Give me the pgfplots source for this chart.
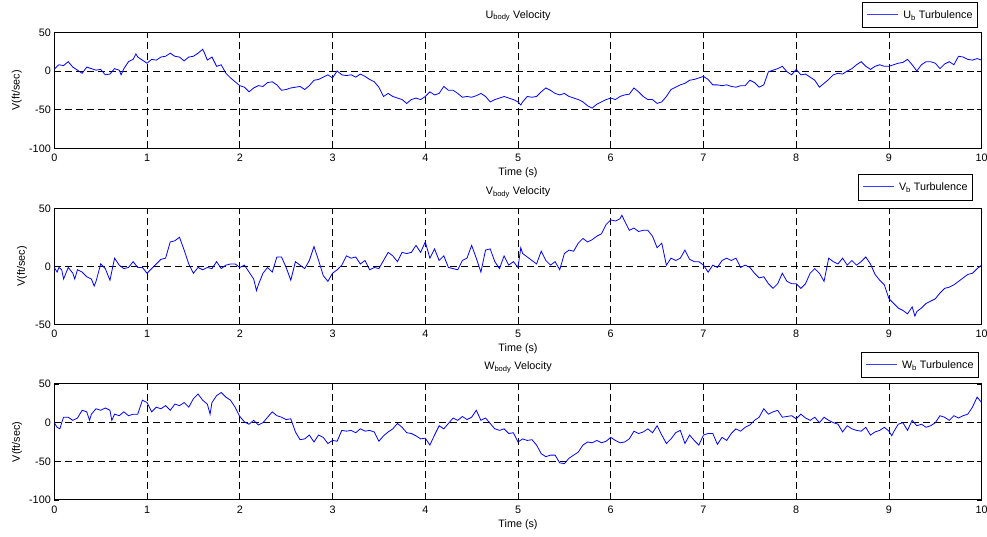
\documentclass[border=0pt]{standalone}
\usepackage{fontspec}
\setmainfont{Liberation Sans}
\usepackage{pgfplots}
\pgfplotsset{compat=1.18}
\newcommand{\fs}{\fontsize{10.8}{12}\selectfont}
\definecolor{legblue}{RGB}{60,60,255}
\newcommand{\legline}{\textcolor{legblue}{\rule[0.32em]{31pt}{0.8pt}}\hspace{5pt}}
\pgfplotsset{
  myax/.style={
    scale only axis, width=927.4pt, height=116pt, anchor=south west,
    xmin=0, xmax=10, xtick={0,1,...,10},
    grid=major,
    major grid style={black, line width=0.6pt, dash pattern=on 7pt off 4pt},
    extra tick style={grid=none},
    tick align=inside, tick pos=both, major tick length=5pt,
    axis line style={black, line width=1pt},
    every tick/.style={black, line width=0.8pt},
    tick label style={font=\fs},
    xticklabel style={yshift=-2.5pt},
    label style={font=\fs},
    title style={font=\fs, at={(axis description cs:0.5,1)}, anchor=base, yshift=8pt},
    xlabel={Time (s)},
    xlabel style={at={(axis description cs:0.5,0)}, anchor=center, yshift=-24.7pt},
    ylabel={V(ft/sec)},
    /pgf/number format/assume math mode=true,
    legend style={draw=black, line width=0.9pt, font=\fs,
      inner xsep=3pt, inner ysep=6pt, anchor=south east},
    legend image code/.code={},
  },
  myline/.style={draw=blue, line width=0.8pt, mark=none},
}
\begin{document}
\begin{tikzpicture}
\useasboundingbox (0,0) rectangle (987pt,537pt);
% ---------- U ----------
\begin{axis}[myax, at={(54.3pt,388.7pt)},
  ymin=-100, ymax=50, ytick={-50,0}, extra y ticks={-100,50},
  title={U\textsubscript{body} Velocity},
  ylabel style={at={(axis description cs:-0.0405,0.5)}, anchor=center},
  legend style={at={(axis description cs:1,1)}, xshift=-3.7pt, yshift=4pt}]
\addplot[myline] coordinates {
(0,2)(0.03,6)(0.05,8)(0.1,7)(0.15,12)(0.2,5)(0.25,1)(0.3,-3)(0.35,5)(0.4,3)
(0.45,1)(0.5,2)(0.55,-5)(0.6,-4)(0.65,3)(0.7,1)(0.72,-5)(0.75,3)(0.8,12)(0.85,15)
(0.88,22)(0.9,18)(0.95,14)(1.0,10)(1.05,15)(1.1,14)(1.15,18)(1.2,19)(1.25,23)(1.3,19)
(1.35,18)(1.4,13)(1.45,18)(1.5,19)(1.55,23)(1.6,28)(1.62,23)(1.65,14)(1.7,18)(1.75,6)
(1.8,8)(1.85,-3)(1.9,-9)(1.95,-14)(2.0,-19)(2.05,-21)(2.1,-27)(2.15,-22)(2.2,-19)(2.25,-20)
(2.3,-15)(2.35,-14)(2.4,-18)(2.45,-25)(2.5,-24)(2.55,-22)(2.6,-21)(2.65,-20)(2.7,-24)(2.75,-19)
(2.8,-12)(2.85,-11)(2.9,-8)(2.95,-5)(3.0,-9)(3.05,0)(3.1,-5)(3.15,-6)(3.2,-5)(3.25,-8)
(3.3,-4)(3.35,-7)(3.4,-11)(3.45,-14)(3.5,-21)(3.55,-33)(3.6,-29)(3.65,-33)(3.7,-35)(3.75,-37)
(3.8,-42)(3.85,-37)(3.9,-35)(3.95,-37)(4.0,-33)(4.05,-27)(4.1,-31)(4.15,-29)(4.2,-20)(4.25,-25)
(4.3,-25)(4.35,-29)(4.4,-34)(4.45,-33)(4.5,-34)(4.55,-32)(4.6,-29)(4.65,-33)(4.7,-40)(4.75,-37)
(4.8,-35)(4.85,-33)(4.9,-35)(4.95,-37)(5.0,-40)(5.03,-44)(5.05,-40)(5.1,-33)(5.15,-34)(5.2,-33)
(5.25,-27)(5.3,-22)(5.35,-25)(5.4,-29)(5.45,-31)(5.5,-29)(5.55,-33)(5.6,-35)(5.65,-37)(5.7,-40)
(5.75,-45)(5.8,-48)(5.85,-43)(5.9,-40)(5.95,-37)(6.0,-35)(6.05,-37)(6.1,-33)(6.15,-31)(6.2,-30)
(6.25,-22)(6.3,-27)(6.35,-33)(6.4,-37)(6.45,-37)(6.5,-42)(6.55,-40)(6.6,-33)(6.65,-24)(6.7,-21)
(6.75,-18)(6.8,-16)(6.85,-12)(6.9,-11)(6.95,-9)(7.0,-7)(7.05,-11)(7.1,-18)(7.15,-18)(7.2,-19)
(7.25,-18)(7.3,-20)(7.35,-21)(7.4,-19)(7.45,-19)(7.5,-12)(7.55,-15)(7.6,-21)(7.65,-18)(7.7,-1)
(7.75,1)(7.8,3)(7.85,6)(7.9,-1)(7.95,-5)(8.0,2)(8.05,-5)(8.1,-4)(8.15,-8)(8.2,-12)
(8.25,-21)(8.3,-16)(8.35,-11)(8.4,-5)(8.45,-3)(8.5,-4)(8.55,0)(8.6,3)(8.65,8)(8.7,12)
(8.75,6)(8.8,2)(8.85,6)(8.9,8)(8.95,6)(9.0,6)(9.05,8)(9.1,10)(9.15,11)(9.2,15)
(9.25,8)(9.3,0)(9.35,8)(9.4,12)(9.45,12)(9.5,10)(9.55,3)(9.6,9)(9.65,12)(9.7,8)
(9.75,19)(9.8,18)(9.85,15)(9.9,14)(9.95,16)(10,14)
};
\addlegendentry{\legline U\textsubscript{b} Turbulence}
\end{axis}
% ---------- V ----------
\begin{axis}[myax, at={(54.3pt,212.7pt)},
  ymin=-50, ymax=50, ytick={0}, extra y ticks={-50,50},
  title={V\textsubscript{body} Velocity},
  ylabel style={at={(axis description cs:-0.0348,0.5)}, anchor=center},
  legend style={at={(axis description cs:1,1)}, xshift=-8.7pt, yshift=7.7pt}]
\addplot[myline] coordinates {
(0,-1)(0.03,-5)(0.05,-1)(0.08,-3)(0.1,-11)(0.15,-1)(0.2,-6)(0.22,-11)(0.25,-3)(0.3,-5)
(0.35,-9)(0.4,-11)(0.43,-17)(0.45,-13)(0.5,2)(0.55,-2)(0.6,-12)(0.65,7)(0.7,1)(0.75,-2)
(0.8,-1)(0.85,4)(0.9,-1)(0.95,-1)(1.0,-6)(1.05,-2)(1.1,2)(1.15,6)(1.2,7)(1.25,21)
(1.3,22)(1.35,25)(1.4,14)(1.45,2)(1.5,-6)(1.55,-1)(1.6,-3)(1.65,-1)(1.7,-2)(1.75,4)
(1.8,-2)(1.85,1)(1.9,2)(1.95,2)(2.0,-1)(2.05,1)(2.1,-5)(2.15,-11)(2.18,-21)(2.2,-16)
(2.25,-6)(2.3,-1)(2.35,-5)(2.4,8)(2.45,8)(2.5,-1)(2.55,-12)(2.6,4)(2.65,1)(2.7,-2)
(2.75,5)(2.8,17)(2.85,5)(2.9,-8)(2.95,-13)(3.0,-6)(3.05,-3)(3.1,1)(3.15,9)(3.2,7)
(3.25,8)(3.3,2)(3.35,5)(3.4,-3)(3.45,-1)(3.5,-2)(3.55,5)(3.6,12)(3.65,9)(3.7,4)
(3.75,12)(3.8,11)(3.85,12)(3.9,18)(3.95,12)(4.0,21)(4.05,7)(4.1,15)(4.15,5)(4.2,9)
(4.25,-1)(4.3,-2)(4.35,-3)(4.4,5)(4.45,7)(4.5,18)(4.55,7)(4.6,-5)(4.65,14)(4.7,15)
(4.75,4)(4.8,-2)(4.85,9)(4.9,1)(4.95,4)(5.0,-1)(5.03,16)(5.05,11)(5.1,8)(5.15,5)
(5.2,2)(5.25,13)(5.3,5)(5.35,1)(5.4,4)(5.45,-3)(5.5,11)(5.55,14)(5.6,13)(5.65,20)
(5.7,24)(5.75,21)(5.8,23)(5.85,26)(5.9,28)(5.95,36)(6.0,40)(6.05,39)(6.1,41)(6.12,44)
(6.15,39)(6.2,31)(6.25,33)(6.3,30)(6.35,31)(6.4,31)(6.45,26)(6.5,16)(6.55,20)(6.6,1)
(6.65,7)(6.7,5)(6.75,7)(6.8,14)(6.85,6)(6.9,4)(6.95,4)(7.0,1)(7.05,-5)(7.1,1)
(7.15,-1)(7.2,5)(7.25,7)(7.3,5)(7.35,7)(7.4,-1)(7.45,1)(7.5,-1)(7.55,-6)(7.6,-10)
(7.65,-9)(7.7,-15)(7.75,-19)(7.8,-15)(7.85,-6)(7.9,-13)(7.95,-15)(8.0,-15)(8.05,-19)(8.1,-15)
(8.15,-6)(8.2,-2)(8.25,-6)(8.3,-13)(8.35,7)(8.4,4)(8.45,2)(8.5,7)(8.55,1)(8.6,5)
(8.65,1)(8.7,4)(8.75,8)(8.8,2)(8.85,-7)(8.9,-12)(8.95,-16)(9.0,-28)(9.05,-32)(9.1,-36)
(9.15,-38)(9.2,-41)(9.25,-35)(9.28,-43)(9.3,-39)(9.35,-36)(9.4,-32)(9.45,-30)(9.5,-28)(9.55,-23)
(9.6,-19)(9.65,-18)(9.7,-16)(9.75,-13)(9.8,-10)(9.85,-7)(9.9,-6)(9.95,-2)(10,1)
};
\addlegendentry{\legline V\textsubscript{b} Turbulence}
\end{axis}
% ---------- W ----------
\begin{axis}[myax, at={(54.3pt,37pt)},
  ymin=-100, ymax=50, ytick={-50,0}, extra y ticks={-100,50},
  title={W\textsubscript{body} Velocity},
  ylabel style={at={(axis description cs:-0.0402,0.5)}, anchor=center},
  legend style={at={(axis description cs:1,1)}, xshift=-2.7pt, yshift=5.6pt}]
\addplot[myline] coordinates {
(0,0)(0.03,-6)(0.06,-8)(0.08,0)(0.1,7)(0.15,7)(0.2,3)(0.25,6)(0.3,16)(0.35,14)
(0.38,3)(0.4,11)(0.45,18)(0.5,16)(0.55,19)(0.6,16)(0.62,3)(0.65,11)(0.7,9)(0.75,14)
(0.8,9)(0.85,11)(0.9,11)(0.95,29)(1.0,26)(1.05,14)(1.1,20)(1.15,18)(1.2,22)(1.25,16)
(1.3,24)(1.35,22)(1.4,26)(1.45,20)(1.5,31)(1.55,37)(1.6,29)(1.65,24)(1.68,11)(1.7,26)
(1.75,35)(1.8,39)(1.85,33)(1.9,29)(1.95,20)(2.0,8)(2.05,1)(2.1,-2)(2.15,3)(2.2,-3)
(2.25,0)(2.3,7)(2.35,14)(2.4,9)(2.45,7)(2.5,4)(2.55,5)(2.6,-12)(2.65,-22)(2.7,-21)
(2.75,-16)(2.8,-25)(2.85,-16)(2.9,-19)(2.95,-27)(3.0,-23)(3.05,-24)(3.1,-10)(3.15,-11)(3.2,-10)
(3.25,-13)(3.3,-8)(3.35,-11)(3.4,-10)(3.45,-12)(3.5,-24)(3.55,-17)(3.6,-12)(3.65,-8)(3.7,-1)
(3.75,-6)(3.8,-13)(3.85,-14)(3.9,-17)(3.95,-21)(4.0,-20)(4.05,-29)(4.1,-16)(4.15,-4)(4.2,-8)
(4.25,-1)(4.3,6)(4.35,3)(4.4,8)(4.45,4)(4.5,7)(4.55,16)(4.6,3)(4.65,6)(4.7,-1)
(4.75,-8)(4.8,-10)(4.85,-8)(4.9,-14)(4.95,-13)(5.0,-25)(5.05,-21)(5.1,-23)(5.15,-22)(5.2,-29)
(5.25,-40)(5.3,-44)(5.35,-42)(5.4,-42)(5.45,-52)(5.5,-53)(5.55,-46)(5.6,-42)(5.65,-38)(5.7,-29)
(5.75,-25)(5.8,-26)(5.85,-23)(5.9,-26)(5.95,-24)(6.0,-19)(6.05,-23)(6.1,-26)(6.15,-25)(6.2,-21)
(6.25,-11)(6.3,-14)(6.35,-12)(6.4,-8)(6.45,-13)(6.5,-4)(6.55,-16)(6.6,-27)(6.65,-21)(6.7,-13)
(6.75,-10)(6.8,-27)(6.85,-16)(6.9,-23)(6.95,-29)(7.0,-16)(7.05,-14)(7.1,-14)(7.15,-28)(7.2,-19)
(7.25,-23)(7.3,-14)(7.35,-8)(7.4,-11)(7.45,-6)(7.5,-3)(7.55,3)(7.6,7)(7.65,18)(7.7,11)
(7.75,14)(7.8,16)(7.85,7)(7.9,8)(7.95,9)(8.0,5)(8.05,11)(8.1,6)(8.15,3)(8.2,7)
(8.25,0)(8.3,7)(8.35,3)(8.4,0)(8.45,-2)(8.5,-12)(8.55,-4)(8.6,-8)(8.65,-10)(8.7,-11)
(8.75,-6)(8.8,-16)(8.85,-12)(8.9,-10)(8.95,-6)(9.0,-11)(9.03,-17)(9.05,-12)(9.1,-2)(9.15,0)
(9.2,-10)(9.25,3)(9.3,-4)(9.35,-2)(9.4,-6)(9.45,-4)(9.5,0)(9.55,9)(9.6,7)(9.65,3)
(9.7,9)(9.75,6)(9.8,9)(9.85,11)(9.9,20)(9.95,33)(10,26)
};
\addlegendentry{\legline W\textsubscript{b} Turbulence}
\end{axis}
\end{tikzpicture}
\end{document}
